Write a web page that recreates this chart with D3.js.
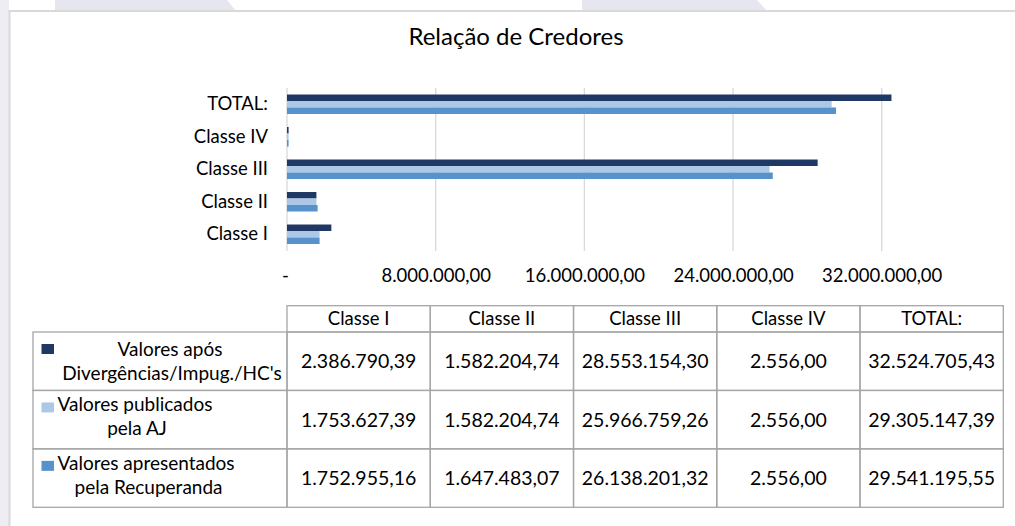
<!DOCTYPE html>
<html>
<head>
<meta charset="utf-8">
<script src="https://cdn.jsdelivr.net/npm/d3@7"></script>
<style>
  html, body { margin: 0; padding: 0; background: #ffffff; }
  svg { display: block; font-family: Lato, "Open Sans", sans-serif; }
</style>
</head>
<body>
<svg id="chart" width="1015" height="526"></svg>
<script>
// ---------- data ----------
const categories = ["Classe I", "Classe II", "Classe III", "Classe IV", "TOTAL:"];
const seriesNames = [
  "Valores após Divergências/Impug./HC's",
  "Valores publicados pela AJ",
  "Valores apresentados pela Recuperanda"
];
const valoresApos = [2386790.39, 1582204.74, 28553154.30, 2556.00, 32524705.43];
const valoresPublicados = [1753627.39, 1582204.74, 25966759.26, 2556.00, 29305147.39];
const valoresApresentados = [1752955.16, 1647483.07, 26138201.32, 2556.00, 29541195.55];
const tickValues = [0, 8000000, 16000000, 24000000, 32000000];
const title = "Relação de Credores";

// legend label lines as shown in the table
const legendLines = [
  ["Valores após", "Divergências/Impug./HC's"],
  ["Valores publicados", "pela AJ"],
  ["Valores apresentados", "pela Recuperanda"]
];

const seriesValues = [valoresApos, valoresPublicados, valoresApresentados];
const colors = ["#203864", "#adc7e7", "#5792cb"];

// ---------- formatting ----------
const ptBR = d3.formatLocale({ decimal: ",", thousands: ".", grouping: [3], currency: ["R$", ""] });
const fmt = ptBR.format(",.2f");
const tickFmt = v => v === 0 ? "-" : fmt(v);

// ---------- svg ----------
const svg = d3.select("#chart");
const W = 1015, H = 526;
svg.append("rect").attr("width", W).attr("height", H).attr("fill", "#ffffff");

// faint background watermark outside the chart frame
const wm = "#e6e6ee";
const line = d3.line();
svg.append("path").attr("d", line([[55,0],[227,0],[236,11],[55,11]]) + "Z").attr("fill", wm);
svg.append("path").attr("d", line([[582,0],[757,0],[767,11],[582,11]]) + "Z").attr("fill", wm);
svg.append("path").attr("d", line([[0,0],[9,0],[9,526],[0,526]]) + "Z").attr("fill", "#ededf3");

// chart frame
svg.append("rect")
  .attr("x", 9.5).attr("y", 11).attr("width", 1015).attr("height", 530)
  .attr("fill", "#ffffff").attr("stroke", "#d9d9d9").attr("stroke-width", 2);

// title
svg.append("text")
  .attr("x", 516).attr("y", 45)
  .attr("text-anchor", "middle")
  .attr("font-size", 24)
  .attr("fill", "#000")
  .text(title);

// ---------- scales ----------
const x = d3.scaleLinear().domain([0, 32000000]).range([287, 881.7]);
const yOrder = categories.slice().reverse(); // TOTAL at top
const y = d3.scaleBand().domain(yOrder).range([88, 250.5]).paddingInner(0.4).paddingOuter(0.2);
const ySub = d3.scaleBand().domain(d3.range(seriesNames.length)).range([0, y.bandwidth()]);

// gridlines
const gridG = svg.append("g");
gridG.selectAll("line").data(tickValues).join("line")
  .attr("x1", d => x(d)).attr("x2", d => x(d))
  .attr("y1", 88).attr("y2", 251)
  .attr("stroke", "#d9d9d9").attr("stroke-width", 1.3);

// x axis labels
const xAxis = d3.axisBottom(x).tickValues(tickValues).tickFormat(tickFmt).tickSize(0).tickPadding(0);
const xg = svg.append("g").attr("transform", "translate(0,269)").call(xAxis);
xg.select(".domain").remove();
xg.selectAll("text").attr("font-size", 18.5).attr("fill", "#000").attr("font-family", "Lato, 'Open Sans', sans-serif");
xg.selectAll(".tick").filter(d => d === 0).select("text").attr("dx", -2);

// y axis labels
const yAxis = d3.axisLeft(y).tickSize(0).tickPadding(19);
const yg = svg.append("g").attr("transform", "translate(287,0)").call(yAxis);
yg.select(".domain").remove();
yg.selectAll("text").attr("font-size", 18.5).attr("fill", "#000").attr("font-family", "Lato, 'Open Sans', sans-serif");

// bars
const barData = [];
seriesValues.forEach((vals, si) => {
  vals.forEach((v, ci) => barData.push({ s: si, cat: categories[ci], v }));
});
svg.append("g").selectAll("rect").data(barData).join("rect")
  .attr("x", x(0))
  .attr("y", d => y(d.cat) + ySub(d.s))
  .attr("width", d => Math.max(1.6, x(d.v) - x(0)))
  .attr("height", ySub.bandwidth())
  .attr("fill", d => colors[d.s]);

// ---------- data table ----------
const tableCols = d3.scaleBand().domain(categories).range([287, 1003.3]);
const headerTop = 305.7, headerBottom = 332;
const rowScale = d3.scaleBand().domain(d3.range(seriesNames.length)).range([headerBottom, 507.3]);
const legendLeft = 33;
const tStroke = "#a6a6a6";
const tg = svg.append("g");

// header cells
tg.selectAll("rect.hdr").data(categories).join("rect")
  .attr("class", "hdr")
  .attr("x", d => tableCols(d)).attr("y", headerTop)
  .attr("width", tableCols.bandwidth()).attr("height", headerBottom - headerTop)
  .attr("fill", "none").attr("stroke", tStroke).attr("stroke-width", 1.3);
tg.selectAll("text.hdr").data(categories).join("text")
  .attr("class", "hdr")
  .attr("x", d => tableCols(d) + tableCols.bandwidth() / 2)
  .attr("y", (headerTop + headerBottom) / 2 + 6.5)
  .attr("text-anchor", "middle").attr("font-size", 18.5).attr("fill", "#000")
  .text(d => d);

// body rows
seriesNames.forEach((name, si) => {
  const ry = rowScale(si), rh = rowScale.bandwidth();
  // legend cell
  tg.append("rect").attr("x", legendLeft).attr("y", ry)
    .attr("width", 287 - legendLeft).attr("height", rh)
    .attr("fill", "none").attr("stroke", tStroke).attr("stroke-width", 1.3);
  const l1y = ry + 24, l2y = ry + 48;
  tg.append("rect").attr("x", 41.5).attr("y", l1y - 12).attr("width", 12.5).attr("height", 10)
    .attr("fill", colors[si]);
  const lines = legendLines[si];
  if (si === 0) {
    tg.append("text").attr("x", 170).attr("y", l1y).attr("text-anchor", "middle")
      .attr("font-size", 19).attr("fill", "#000").text(lines[0]);
    tg.append("text").attr("x", 172).attr("y", l2y).attr("text-anchor", "middle")
      .attr("font-size", 19).attr("fill", "#000").text(lines[1]);
  } else {
    tg.append("text").attr("x", 57.5).attr("y", l1y - 3).attr("text-anchor", "start")
      .attr("font-size", 19).attr("fill", "#000").text(lines[0]);
    tg.append("text").attr("x", si === 1 ? 137 : 148.5).attr("y", l2y - 3).attr("text-anchor", "middle")
      .attr("font-size", 19).attr("fill", "#000").text(lines[1]);
  }
  // value cells
  categories.forEach((c, ci) => {
    tg.append("rect").attr("x", tableCols(c)).attr("y", ry)
      .attr("width", tableCols.bandwidth()).attr("height", rh)
      .attr("fill", "none").attr("stroke", tStroke).attr("stroke-width", 1.3);
    tg.append("text")
      .attr("x", tableCols(c) + tableCols.bandwidth() / 2)
      .attr("y", ry + rh / 2 + 7)
      .attr("text-anchor", "middle").attr("font-size", 19.5).attr("fill", "#000")
      .text(fmt(seriesValues[si][ci]));
  });
});
</script>
</body>
</html>
